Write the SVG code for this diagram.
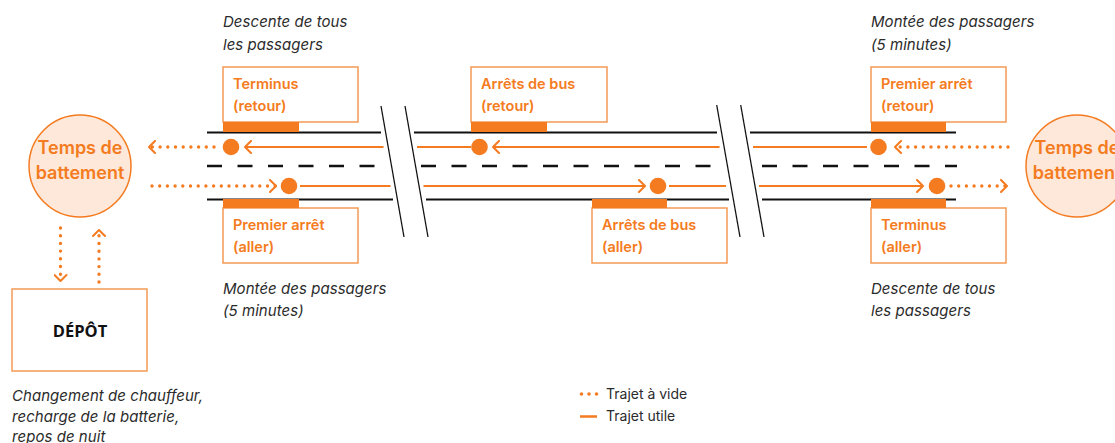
<svg xmlns="http://www.w3.org/2000/svg" width="1115" height="443" viewBox="0 0 1115 443">
<style>
.road{stroke:#111;stroke-width:2;fill:none}
.dash{stroke:#111;stroke-width:2.5;stroke-dasharray:15 15.5;fill:none}
.slash{stroke:#111;stroke-width:1.3;fill:none}
.flow{stroke:#F47B20;stroke-width:2;fill:none}
.empty{stroke:#F47B20;stroke-width:3.4;stroke-linecap:round;stroke-dasharray:0 7.7;fill:none}
.box{fill:#fff;stroke:#F59A55;stroke-width:1.5}
.bar{fill:#F47B20}
.dot{fill:#F47B20}
.circ{fill:#FDE8DA;stroke:#F47B20;stroke-width:1.5}
.lbl{font-family:Inter,"Liberation Sans",sans-serif;font-size:14.5px;font-weight:600;fill:#F47B20}
.clbl{font-family:Inter,"Liberation Sans",sans-serif;font-size:18px;font-weight:600;fill:#F47B20;text-anchor:middle}
.note{font-family:Inter,"Liberation Sans",sans-serif;font-size:15px;letter-spacing:0.05px;font-style:italic;fill:#2b2b2b}
.leg{font-family:Inter,"Liberation Sans",sans-serif;font-size:14px;fill:#2b2b2b}
.dep{font-family:"Open Sans","Noto Sans","Liberation Sans",sans-serif;font-size:16.5px;font-weight:700;fill:#111;text-anchor:middle}
</style>
<defs>
<marker id="arr" markerUnits="userSpaceOnUse" viewBox="0 0 10 14" refX="8.5" refY="7" markerWidth="10" markerHeight="14" orient="auto">
<path d="M2.5,1 L8.5,7 L2.5,13" fill="none" stroke="#F47B20" stroke-width="2" stroke-linecap="round" stroke-linejoin="round"/>
</marker>
</defs>

<g id="road">
<line class="road" x1="207" y1="132.5" x2="381" y2="132.5"/>
<line class="road" x1="414" y1="132.5" x2="717" y2="132.5"/>
<line class="road" x1="750" y1="132.5" x2="956" y2="132.5"/>
<line class="road" x1="207" y1="199.5" x2="393" y2="199.5"/>
<line class="road" x1="426" y1="199.5" x2="729" y2="199.5"/>
<line class="road" x1="762" y1="199.5" x2="956" y2="199.5"/>
<line class="dash" x1="207" y1="166" x2="387" y2="166"/>
<line class="dash" x1="421" y1="166" x2="723" y2="166"/>
<line class="dash" x1="762" y1="166" x2="957" y2="166"/>
<line class="slash" x1="381" y1="106" x2="404" y2="237"/>
<line class="slash" x1="405" y1="106" x2="428" y2="237"/>
<line class="slash" x1="716.7" y1="105" x2="740" y2="237"/>
<line class="slash" x1="740.7" y1="105" x2="764" y2="237"/>
</g>

<g id="connectors">
<line class="empty" x1="1008" y1="147" x2="895" y2="147" marker-end="url(#arr)"/>
<line class="flow" x1="867" y1="147" x2="753" y2="147"/>
<line class="flow" x1="719.5" y1="147" x2="493" y2="147" marker-end="url(#arr)"/>
<line class="flow" x1="471" y1="147" x2="417" y2="147"/>
<line class="flow" x1="383.5" y1="147" x2="245" y2="147" marker-end="url(#arr)"/>
<line class="empty" x1="214" y1="147" x2="149" y2="147" marker-end="url(#arr)"/>
<line class="empty" x1="152" y1="186" x2="276" y2="186" marker-end="url(#arr)"/>
<line class="flow" x1="300" y1="186" x2="390.5" y2="186"/>
<line class="flow" x1="423.5" y1="186" x2="645" y2="186" marker-end="url(#arr)"/>
<line class="flow" x1="669" y1="186" x2="726" y2="186"/>
<line class="flow" x1="759" y1="186" x2="923" y2="186" marker-end="url(#arr)"/>
<line class="empty" x1="951" y1="186" x2="1007" y2="186" marker-end="url(#arr)"/>
<line class="empty" x1="60.5" y1="228" x2="60.5" y2="281" marker-end="url(#arr)"/>
<line class="empty" x1="99" y1="282" x2="99" y2="230" marker-end="url(#arr)"/>
</g>

<g id="circle-left">
<circle class="circ" cx="80" cy="166" r="51"/>
<text class="clbl" x="80" y="154">Temps de</text>
<text class="clbl" x="80" y="179">battement</text>
</g>
<g id="circle-right">
<circle class="circ" cx="1077" cy="166" r="51"/>
<text class="clbl" x="1077" y="154">Temps de</text>
<text class="clbl" x="1077" y="179">battement</text>
</g>

<g id="terminus-retour">
<rect class="box" x="223" y="67" width="135" height="55"/>
<rect class="bar" x="223" y="122" width="76" height="10"/>
<text class="lbl" x="233" y="89">Terminus</text>
<text class="lbl" x="233" y="110.5">(retour)</text>
<circle class="dot" cx="231" cy="147" r="8.3"/>
</g>
<g id="arrets-retour">
<rect class="box" x="471" y="67" width="136" height="55"/>
<rect class="bar" x="471" y="122" width="76" height="10"/>
<text class="lbl" x="481" y="89">Arrêts de bus</text>
<text class="lbl" x="481" y="110.5">(retour)</text>
<circle class="dot" cx="479.5" cy="147" r="8.3"/>
</g>
<g id="premier-retour">
<rect class="box" x="871" y="67" width="135" height="55"/>
<rect class="bar" x="871" y="122" width="75" height="10"/>
<text class="lbl" x="881" y="89">Premier arrêt</text>
<text class="lbl" x="881" y="110.5">(retour)</text>
<circle class="dot" cx="878.5" cy="147" r="8.3"/>
</g>
<g id="premier-aller">
<rect class="box" x="223" y="208" width="135" height="55"/>
<rect class="bar" x="223" y="199" width="76" height="9"/>
<text class="lbl" x="233" y="230">Premier arrêt</text>
<text class="lbl" x="233" y="251.5">(aller)</text>
<circle class="dot" cx="289" cy="186" r="8.3"/>
</g>
<g id="arrets-aller">
<rect class="box" x="592" y="208" width="135" height="55"/>
<rect class="bar" x="592" y="199" width="75" height="9"/>
<text class="lbl" x="602" y="230">Arrêts de bus</text>
<text class="lbl" x="602" y="251.5">(aller)</text>
<circle class="dot" cx="658" cy="186" r="8.3"/>
</g>
<g id="terminus-aller">
<rect class="box" x="871" y="208" width="135" height="55"/>
<rect class="bar" x="871" y="199" width="75" height="9"/>
<text class="lbl" x="881" y="230">Terminus</text>
<text class="lbl" x="881" y="251.5">(aller)</text>
<circle class="dot" cx="937" cy="186" r="8.3"/>
</g>

<g id="depot">
<rect class="box" x="12" y="289" width="135" height="82"/>
<text class="dep" x="80" y="337">DÉPÔT</text>
</g>

<g id="notes">
<text class="note" x="223" y="27">Descente de tous</text>
<text class="note" x="223" y="50">les passagers</text>
<text class="note" x="223" y="294">Montée des passagers</text>
<text class="note" x="223" y="316">(5 minutes)</text>
<text class="note" x="871" y="27">Montée des passagers</text>
<text class="note" x="871" y="50">(5 minutes)</text>
<text class="note" x="871" y="294">Descente de tous</text>
<text class="note" x="871" y="316">les passagers</text>
<text class="note" x="12" y="401">Changement de chauffeur,</text>
<text class="note" x="12" y="422">recharge de la batterie,</text>
<text class="note" x="12" y="442">repos de nuit</text>
</g>

<g id="legend">
<circle class="dot" cx="581.5" cy="394" r="1.8"/>
<circle class="dot" cx="589" cy="394" r="1.8"/>
<circle class="dot" cx="596.5" cy="394" r="1.8"/>
<text class="leg" x="606" y="399">Trajet à vide</text>
<line class="flow" x1="580" y1="416.5" x2="597" y2="416.5" style="stroke-width:2.5"/>
<text class="leg" x="606" y="421">Trajet utile</text>
</g>
</svg>
